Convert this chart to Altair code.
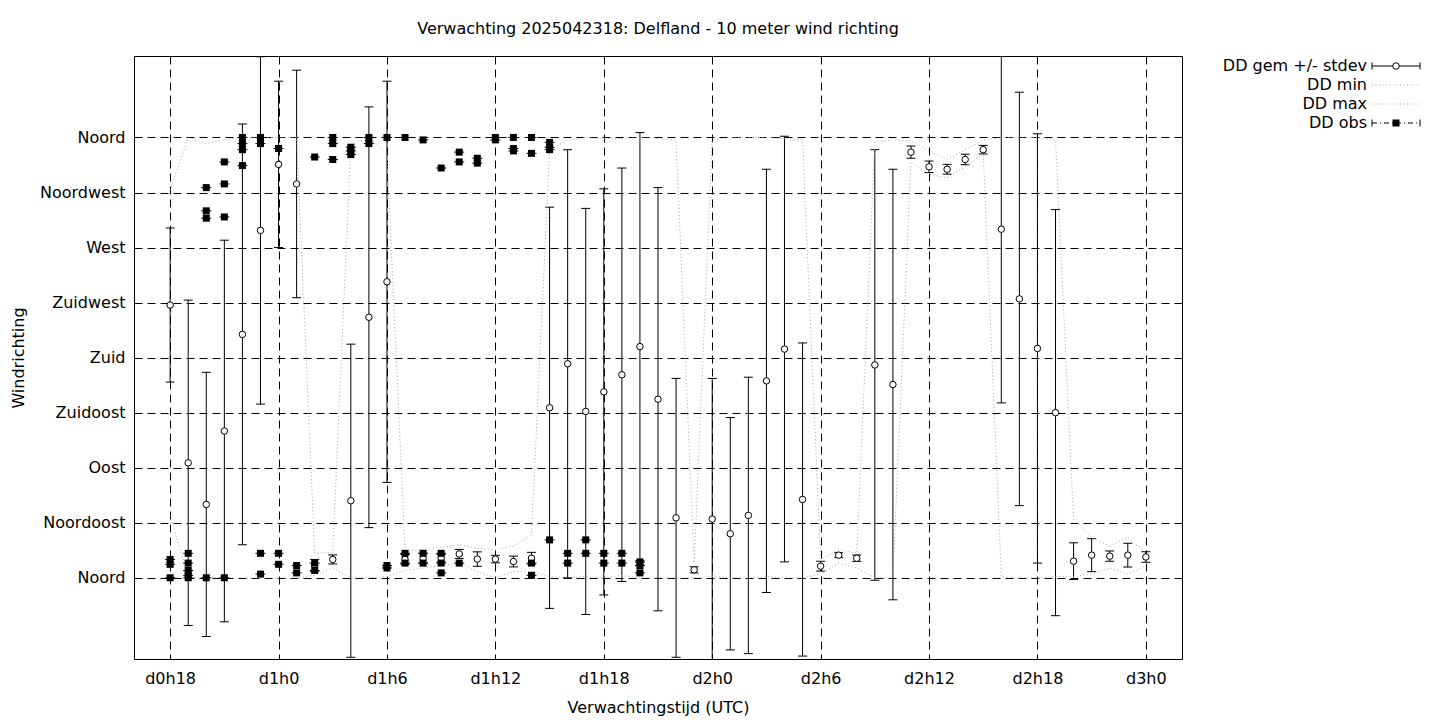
import altair as alt
import pandas as pd

# ---------------- data ----------------
hours = list(range(18, 73))
dd_gem = [223, 94, 60, 120, 199, 284, 338, 322, 10, 15, 63, 213, 242,
          15, 16, 16, 19.5, 15.3, 15.3, 13.3, 16, 139, 175, 136, 152, 166,
          189, 146, 49, 6.5, 48, 36, 51, 161, 187, 64, 9.5, 18.5, 16,
          174, 158, 348, 336, 334, 342, 350, 285, 228, 187.5, 135,
          13.6, 18.5, 17.7, 18.5, 17]
dd_std = [63, 133, 108, 156, 172, 142, 68, 93, 5, 3.7, 128, 172, 164,
          4, 4, 3, 3.7, 5.9, 3.1, 4.4, 4.8, 164, 175, 166, 166, 169,
          175, 173, 114, 2.5, 115, 95, 113, 173, 174, 128, 4, 2, 2.6,
          176, 176, 5, 4.7, 4, 4.3, 3.5, 142, 169, 175.5, 166,
          15, 13.5, 4.2, 9.7, 4.3]
dd_min = [51, 1, 0, 0, 0, 0, 0, 0, 2, 8, 0, 0, 1,
          6, 8, 10, 12, 5, 0, 5, 5, 1, 0, 1, 0, 2,
          0, 0, 0, 0, 1, 0, 0, 1, 0, 0, 3, 12, 8,
          0, 0, 340, 330, 327, 336, 347, 1, 0, 0, 1,
          1, 3, 8, 3, 10]
dd_max = [317, 360, 355, 358, 360, 360, 360, 360, 20, 21, 354, 360, 347,
          22, 23, 25, 27, 24, 23, 26, 35, 350, 358, 360, 359, 359,
          360, 359, 358, 12, 358, 360, 360, 360, 359, 358, 15, 23, 20,
          356, 358, 357, 349, 342, 350, 358, 360, 360, 360, 358,
          48, 33, 26, 33, 20]

obs_hour = [18, 18, 18,
            19, 19, 19, 19, 19,
            20, 20, 20, 20,
            21, 21, 21, 21,
            22, 22, 22, 22,
            23, 23, 23, 23,
            24, 24, 24,
            25, 25,
            26, 26, 26,
            27, 27, 27,
            28, 28, 28,
            29, 29,
            30, 30, 30,
            31, 31, 31,
            32, 32, 32,
            33, 33, 33, 33,
            34, 34, 34,
            35, 35,
            36, 36,
            37, 37, 37,
            38, 38, 38, 38,
            39, 39, 39, 39,
            40, 40,
            41, 41,
            42, 42,
            43, 43,
            44, 44, 44]
obs_dir = [15, 11, 0,
           20, 12, 6, 2, 0,
           319, 300, 294, 0,
           340, 322, 295, 0,
           360, 355, 350, 337,
           360, 355, 20, 3,
           351, 20, 11,
           10, 4,
           344, 12, 6,
           360, 355, 342,
           352, 349, 346,
           360, 355,
           360, 10, 8,
           360, 20, 12,
           358, 20, 12,
           335, 20, 12, 4,
           348, 340, 12,
           343, 339,
           360, 358,
           360, 351, 349,
           360, 347, 12, 2,
           356, 352, 350, 31,
           20, 12,
           31, 20,
           20, 12,
           20, 12,
           13, 10, 4]

dir_labels = ["Noord", "Noordoost", "Oost", "Zuidoost", "Zuid",
              "Zuidwest", "West", "Noordwest", "Noord"]
dir_ticks = [0, 45, 90, 135, 180, 225, 270, 315, 360]
time_ticks = [18, 24, 30, 36, 42, 48, 54, 60, 66, 72]

title_text = "Verwachting 2025042318: Delfland - 10 meter wind richting"
legend_labels = ["DD gem +/- stdev", "DD min", "DD max", "DD obs"]

# ---------------- frames ----------------
gem_df = pd.DataFrame({"hour": hours, "gem": dd_gem, "std": dd_std,
                       "dmin": dd_min, "dmax": dd_max})
gem_df["lo"] = gem_df["gem"] - gem_df["std"]
gem_df["hi"] = gem_df["gem"] + gem_df["std"]
obs_df = pd.DataFrame({"hour": obs_hour, "dir": obs_dir})
one = pd.DataFrame({"a": [0]})

W, H = 1048, 603
FONT = "DejaVu Sans"
FS = 16
GREY = "#a8a8a8"
CIRC = 42
SQ = 49

xs = alt.Scale(domain=[16, 74], nice=False, zero=False)
ys = alt.Scale(domain=[-66.4, 426.6], nice=False, zero=False)

label_js = "[" + ",".join("'%s'" % s for s in dir_labels) + "]"
x_axis = alt.Axis(values=time_ticks, title="Verwachtingstijd (UTC)",
                  labelExpr="'d' + floor(datum.value/24) + 'h' + (datum.value % 24)",
                  labelPadding=11, titleX=W / 2, titleY=48,
                  titleBaseline="middle", titleAlign="center")
y_axis = alt.Axis(values=dir_ticks, title="Windrichting",
                  labelExpr=label_js + "[round(datum.value/45)]",
                  labelPadding=9, titleX=-116, titleY=H / 2,
                  titleAngle=-90, titleBaseline="middle", titleAlign="center")

X = alt.X("hour:Q", scale=xs, axis=x_axis)


def Y(field):
    return alt.Y(field, type="quantitative", scale=ys, axis=y_axis)


err = alt.Chart(gem_df).mark_rule(color="black", strokeWidth=1, clip=True).encode(
    x=X, y=Y("lo"), y2="hi")
cap_lo = alt.Chart(gem_df).mark_rule(color="black", strokeWidth=1, clip=True,
                                     xOffset=-4.5, x2Offset=4.5).encode(
    x=X, x2="hour:Q", y=Y("lo"))
cap_hi = alt.Chart(gem_df).mark_rule(color="black", strokeWidth=1, clip=True,
                                     xOffset=-4.5, x2Offset=4.5).encode(
    x=X, x2="hour:Q", y=Y("hi"))
pts = alt.Chart(gem_df).mark_point(shape="circle", size=CIRC, filled=True,
                                   fill="white", stroke="black", strokeWidth=1,
                                   opacity=1, clip=True).encode(x=X, y=Y("gem"))
line_min = alt.Chart(gem_df).mark_line(color=GREY, strokeWidth=1,
                                       strokeDash=[1, 2.5], clip=True).encode(
    x=X, y=Y("dmin"))
line_max = alt.Chart(gem_df).mark_line(color=GREY, strokeWidth=1,
                                       strokeDash=[1, 2.5], clip=True).encode(
    x=X, y=Y("dmax"))
obs_cap = alt.Chart(obs_df).mark_rule(color="black", strokeWidth=1, clip=True,
                                      xOffset=-5, x2Offset=5).encode(
    x=X, x2="hour:Q", y=Y("dir"))
obs_sq = alt.Chart(obs_df).mark_square(size=SQ, filled=True, color="black",
                                       opacity=1, clip=True).encode(
    x=X, y=Y("dir"))

# ---------------- title & legend ----------------
layers = [err, cap_lo, cap_hi, pts, line_min, line_max, obs_cap, obs_sq]

layers.append(alt.Chart(one).mark_text(text=title_text, font=FONT, fontSize=FS,
                                       align="center", baseline="middle",
                                       color="black").encode(
    x=alt.value(W / 2), y=alt.value(-27)))

lx_text, lx1, lx2 = 1233, 1238, 1286
lxc = (lx1 + lx2) / 2
rows = [10, 29, 48, 67]
for lab, ry in zip(legend_labels, rows):
    layers.append(alt.Chart(one).mark_text(text=lab, font=FONT, fontSize=FS,
                                           align="right", baseline="middle",
                                           color="black").encode(
        x=alt.value(lx_text), y=alt.value(ry)))


def hseg(x1, x2, yy, **kw):
    return alt.Chart(one).mark_rule(**kw).encode(
        x=alt.value(x1), x2=alt.value(x2), y=alt.value(yy))


def vseg(xx, y1, y2, **kw):
    return alt.Chart(one).mark_rule(**kw).encode(
        x=alt.value(xx), y=alt.value(y1), y2=alt.value(y2))


# row 1: errorbar sample
layers.append(hseg(lx1, lx2, rows[0], color="black", strokeWidth=1))
layers.append(vseg(lx1, rows[0] - 3.5, rows[0] + 3.5, color="black", strokeWidth=1))
layers.append(vseg(lx2, rows[0] - 3.5, rows[0] + 3.5, color="black", strokeWidth=1))
layers.append(alt.Chart(one).mark_point(shape="circle", size=CIRC, filled=True,
                                        fill="white", stroke="black",
                                        strokeWidth=1, opacity=1).encode(
    x=alt.value(lxc), y=alt.value(rows[0])))
# rows 2, 3: dotted grey
layers.append(hseg(lx1, lx2, rows[1], color=GREY, strokeWidth=1, strokeDash=[1, 2.5]))
layers.append(hseg(lx1, lx2, rows[2], color=GREY, strokeWidth=1, strokeDash=[1, 2.5]))
# row 4: obs sample
layers.append(hseg(lx1, lx2, rows[3], color="black", strokeWidth=1,
                   strokeDash=[5, 3, 1, 3]))
layers.append(vseg(lx1, rows[3] - 3.5, rows[3] + 3.5, color="black", strokeWidth=1))
layers.append(vseg(lx2, rows[3] - 3.5, rows[3] + 3.5, color="black", strokeWidth=1))
layers.append(alt.Chart(one).mark_square(size=SQ, filled=True, color="black",
                                         opacity=1).encode(
    x=alt.value(lxc), y=alt.value(rows[3])))

chart = alt.layer(*layers).properties(
    width=W, height=H,
    autosize=alt.AutoSizeParams(type="none"),
    padding={"left": 126, "top": 48, "right": 250, "bottom": 60},
).configure_view(
    stroke="black", strokeWidth=1
).configure_axis(
    grid=True, gridColor="black", gridDash=[8, 5], gridOpacity=1, gridWidth=1,
    domain=False, ticks=False, tickSize=0,
    labelFont=FONT, labelFontSize=FS, labelColor="black",
    titleFont=FONT, titleFontSize=FS, titleFontWeight="normal", titleColor="black",
)

chart.save("out.html", embed_options={"renderer": "svg", "actions": False})
